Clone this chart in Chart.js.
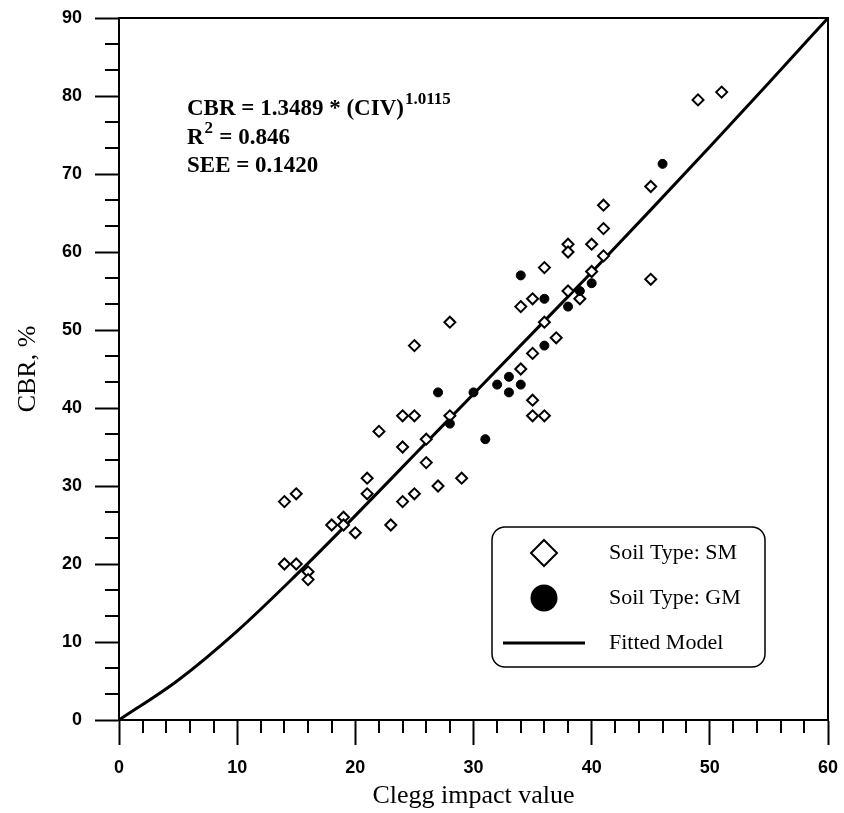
<!DOCTYPE html>
<html>
<head>
<meta charset="utf-8">
<script src="https://cdn.jsdelivr.net/npm/chart.js"></script>
<style>
  html,body{margin:0;padding:0;background:#fff;}
  canvas{display:block;}
</style>
</head>
<body>
<canvas id="cbrChart" width="844" height="813"></canvas>
<script>
// soil type SM
const smCIV = [14,15,14,15,16,16,18,19,19,20,21,21,22,23,24,24,24,25,25,25,26,26,27,28,28,29,34,34,35,35,35,35,36,36,36,37,38,38,38,39,40,40,41,41,41,45,45,49,51];
const smCBR = [28,29,20,20,19,18,25,26,25,24,31,29,37,25,39,35,28,39,29,48,36,33,30,51,39,31,53,45,54,47,41,39,51,39,58,49,61,60,55,54,61,57.5,66,63,59.5,68.4,56.5,79.5,80.5];

// soil type GM
const gmCIV = [27,28,30,31,32,33,33,34,34,36,36,38,39,40,46];
const gmCBR = [42,38,42,36,43,44,42,43,57,54,48,53,55,56,71.3];

// fitted model curve
const fitCIV = [0,5,10,15,20,25,30,35,40,45,50,55,60];
const fitCBR = [0,5.1,11.4,18.6,26.2,34.0,41.8,49.6,57.4,65.4,73.5,81.7,90];

const xTicks = [0,10,20,30,40,50,60];
const yTicks = [0,10,20,30,40,50,60,70,80,90];

const legendItems = ["Soil Type: SM","Soil Type: GM","Fitted Model"];
const eqLines = ["CBR = 1.3489 * (CIV)", "R", "SEE = 0.1420"];

const SERIF = '"Liberation Serif","Times New Roman",serif';
const SANS = '"Liberation Sans",Arial,sans-serif';

const pts = (xs,ys)=>xs.map((v,i)=>({x:v,y:ys[i]}));

function diamond(ctx,cx,cy,r){
  ctx.beginPath();
  ctx.moveTo(cx,cy-r);
  ctx.lineTo(cx+r,cy);
  ctx.lineTo(cx,cy+r);
  ctx.lineTo(cx-r,cy);
  ctx.closePath();
}

function roundBox(ctx,x,y,w,h,r){
  ctx.beginPath();
  ctx.moveTo(x+r,y);
  ctx.arcTo(x+w,y,x+w,y+h,r);
  ctx.arcTo(x+w,y+h,x,y+h,r);
  ctx.arcTo(x,y+h,x,y,r);
  ctx.arcTo(x,y,x+w,y,r);
  ctx.closePath();
}

// frame, minor ticks, equation text and legend
const extras = {
  id:'extras',
  afterDraw(chart){
    const {ctx, chartArea:a, scales:{x,y}} = chart;
    ctx.save();
    ctx.strokeStyle='#000';
    ctx.lineWidth=2;
    ctx.strokeRect(a.left,a.top,a.right-a.left,a.bottom-a.top);

    ctx.beginPath();
    for(let v=2; v<60; v+=2){
      if(v%10===0) continue;
      const px=Math.round(x.getPixelForValue(v));
      ctx.moveTo(px,a.bottom); ctx.lineTo(px,a.bottom+13);
    }
    for(let i=1;i<27;i++){
      if(i%3===0) continue;
      const py=Math.round(y.getPixelForValue(i*10/3));
      ctx.moveTo(a.left,py); ctx.lineTo(a.left-14,py);
    }
    ctx.stroke();

    // equation
    ctx.fillStyle='#000';
    ctx.textBaseline='alphabetic';
    ctx.textAlign='left';
    const tx=a.left+68, ty=a.top+97;
    ctx.font='bold 23px '+SERIF;
    ctx.fillText(eqLines[0],tx,ty);
    let w=ctx.measureText(eqLines[0]).width;
    ctx.font='bold 17px '+SERIF;
    ctx.fillText("1.0115",tx+w+1,ty-11);
    ctx.font='bold 23px '+SERIF;
    ctx.fillText(eqLines[1],tx,ty+29);
    w=ctx.measureText(eqLines[1]).width;
    ctx.font='bold 17px '+SERIF;
    ctx.fillText("2",tx+w+1,ty+18);
    ctx.font='bold 23px '+SERIF;
    ctx.fillText(" = 0.846",tx+w+10,ty+29);
    ctx.fillText(eqLines[2],tx,ty+57);

    // legend
    const lx=a.left+373, ly=a.top+509, lw=273, lh=140;
    ctx.lineWidth=1.5;
    roundBox(ctx,lx,ly,lw,lh,13);
    ctx.fillStyle='#fff'; ctx.fill(); ctx.stroke();
    const mx=lx+52;
    const rows=[ly+26, ly+71, ly+116];
    ctx.lineWidth=2;
    diamond(ctx,mx,rows[0],13); ctx.fillStyle='#fff'; ctx.fill(); ctx.stroke();
    ctx.beginPath(); ctx.arc(mx,rows[1],13.5,0,Math.PI*2); ctx.fillStyle='#000'; ctx.fill();
    ctx.lineWidth=3;
    ctx.beginPath(); ctx.moveTo(lx+11,rows[2]); ctx.lineTo(lx+93,rows[2]); ctx.stroke();
    ctx.font='22px '+SERIF;
    ctx.textBaseline='middle';
    ctx.fillStyle='#000';
    legendItems.forEach((t,i)=>ctx.fillText(t,lx+117,rows[i]));
    ctx.restore();
  }
};

new Chart(document.getElementById('cbrChart').getContext('2d'),{
  type:'scatter',
  data:{
    datasets:[
      {
        label:legendItems[2],
        type:'line',
        data:pts(fitCIV,fitCBR),
        borderColor:'#000',
        borderWidth:3,
        pointRadius:0,
        fill:false,
        cubicInterpolationMode:'monotone',
        order:3
      },
      {
        label:legendItems[0],
        data:pts(smCIV,smCBR),
        pointStyle:'rectRot',
        pointRadius:5.5,
        borderColor:'#000',
        backgroundColor:'#fff',
        borderWidth:2,
        order:2
      },
      {
        label:legendItems[1],
        data:pts(gmCIV,gmCBR),
        pointStyle:'circle',
        pointRadius:4.5,
        borderColor:'#000',
        backgroundColor:'#000',
        borderWidth:1,
        order:1
      }
    ]
  },
  options:{
    responsive:false,
    animation:false,
    layout:{padding:{top:18,right:16,left:0,bottom:0}},
    plugins:{legend:{display:false},tooltip:{enabled:false}},
    scales:{
      x:{
        type:'linear',min:0,max:60,
        afterBuildTicks:s=>{s.ticks=xTicks.map(v=>({value:v}));},
        afterFit:s=>{s.height=93;s.paddingLeft=0;s.paddingRight=0;},
        ticks:{color:'#000',font:{family:SANS,size:18,weight:'bold'},padding:12,maxRotation:0},
        grid:{drawOnChartArea:false,tickLength:25,tickWidth:2,tickColor:'#000'},
        border:{display:true,color:'#000',width:2},
        title:{display:true,text:'Clegg impact value',color:'#000',font:{family:SERIF,size:26,lineHeight:1},padding:{top:0,bottom:4}}
      },
      y:{
        type:'linear',min:0,max:90,
        afterBuildTicks:s=>{s.ticks=yTicks.map(v=>({value:v}));},
        afterFit:s=>{s.width=119;s.paddingTop=0;s.paddingBottom=0;},
        ticks:{color:'#000',font:{family:SANS,size:18,weight:'bold'},padding:13},
        grid:{drawOnChartArea:false,tickLength:24,tickWidth:2,tickColor:'#000'},
        border:{display:true,color:'#000',width:2},
        title:{display:true,text:'CBR, %',color:'#000',font:{family:SERIF,size:26,lineHeight:1},padding:{top:15,bottom:0}}
      }
    }
  },
  plugins:[extras]
});
</script>
</body>
</html>
